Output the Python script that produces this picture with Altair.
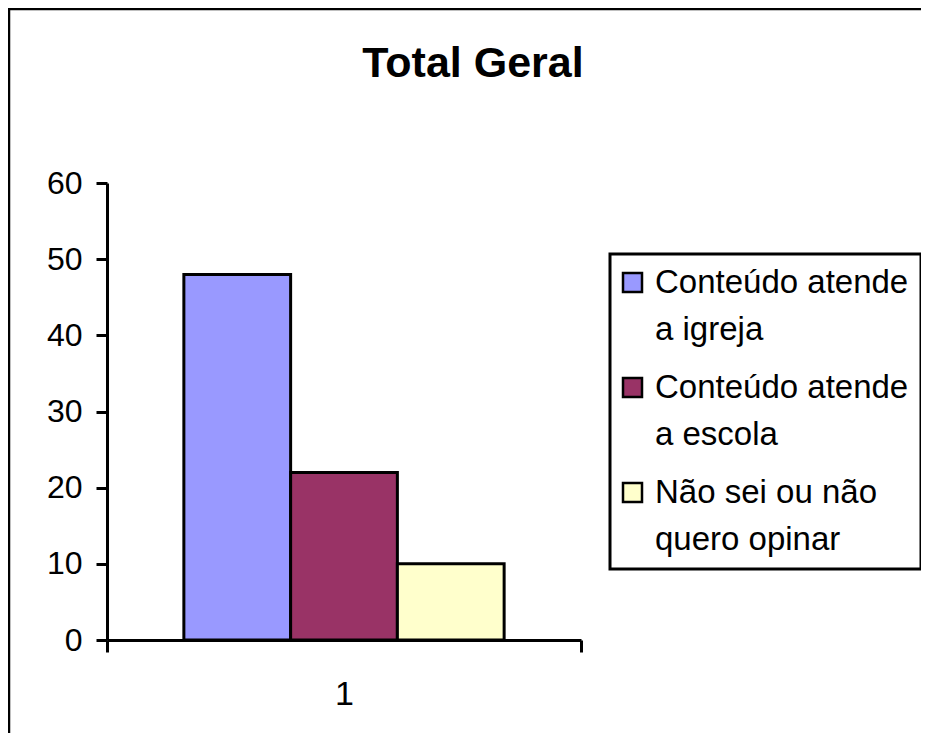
import altair as alt
import pandas as pd
import json

# ---- data ----
chart_title = "Total Geral"
categories = ["1"]
series = ["Conteúdo atende a igreja", "Conteúdo atende a escola", "Não sei ou não quero opinar"]
series_lines = [["Conteúdo atende", "a igreja"], ["Conteúdo atende", "a escola"], ["Não sei ou não", "quero opinar"]]
values = [48, 22, 10]
colors = ["#9999FF", "#993366", "#FFFFCC"]
y_ticks = [0, 10, 20, 30, 40, 50, 60]

df = pd.DataFrame({
    "cat": [categories[0]] * len(series),
    "serie": series,
    "valor": values,
})

FONT = "Liberation Sans"
label_map = json.dumps({s: l for s, l in zip(series, series_lines)}, ensure_ascii=False)

bars = alt.Chart(df).mark_bar(stroke="black", strokeWidth=3, opacity=1).encode(
    x=alt.X("cat:N", title=None,
            scale=alt.Scale(paddingInner=0, paddingOuter=0),
            axis=alt.Axis(labelAngle=0, tickBand="extent", tickSize=12, tickWidth=3,
                          tickColor="black", domainColor="black", domainWidth=3,
                          labelFont=FONT, labelFontSize=34, labelColor="black",
                          labelPadding=25)),
    xOffset=alt.XOffset("serie:N", sort=series,
                        scale=alt.Scale(paddingInner=0, paddingOuter=0.72)),
    y=alt.Y("valor:Q", title=None,
            scale=alt.Scale(domain=[0, 60], nice=False),
            axis=alt.Axis(values=y_ticks, grid=False, tickSize=11, tickWidth=3,
                          tickColor="black", domainColor="black", domainWidth=3,
                          labelFont=FONT, labelFontSize=32, labelColor="black",
                          labelPadding=14)),
    color=alt.Color("serie:N", sort=series,
                    scale=alt.Scale(domain=series, range=colors),
                    legend=alt.Legend(title=None, orient="none", legendX=503, legendY=71,
                                      symbolType="square", symbolSize=361,
                                      symbolStrokeColor="black", symbolStrokeWidth=2.5,
                                      symbolOpacity=1, symbolOffset=-6,
                                      labelFont=FONT, labelFontSize=33, labelColor="black",
                                      labelLimit=500, labelOffset=6,
                                      labelExpr=label_map + "[datum.label]",
                                      padding=12, rowPadding=24,
                                      strokeColor="black")),
)

border = alt.Chart(pd.DataFrame({"b": [0]})).mark_rect(
    fill=None, stroke="black", strokeWidth=2.5
).encode(
    x=alt.value(-98), y=alt.value(-174), x2=alt.value(3000), y2=alt.value(3000)
)

title = alt.Chart(pd.DataFrame({"t": [chart_title]})).mark_text(
    font=FONT, fontSize=43, fontWeight="bold", color="black",
    align="center", baseline="alphabetic"
).encode(
    text="t:N", x=alt.value(366), y=alt.value(-106)
)

chart = alt.layer(border, title, bars).properties(
    width=474, height=457,
    autosize=alt.AutoSizeParams(type="none"),
    padding={"left": 99, "top": 175, "right": 340, "bottom": 93},
).configure(
    background="white",
    style={"guide-label": {"lineHeight": 47}},
).configure_view(strokeWidth=0, stroke="transparent").configure_legend(strokeWidth=3)

chart.save("out.html", embed_options={"renderer": "svg", "actions": False})
